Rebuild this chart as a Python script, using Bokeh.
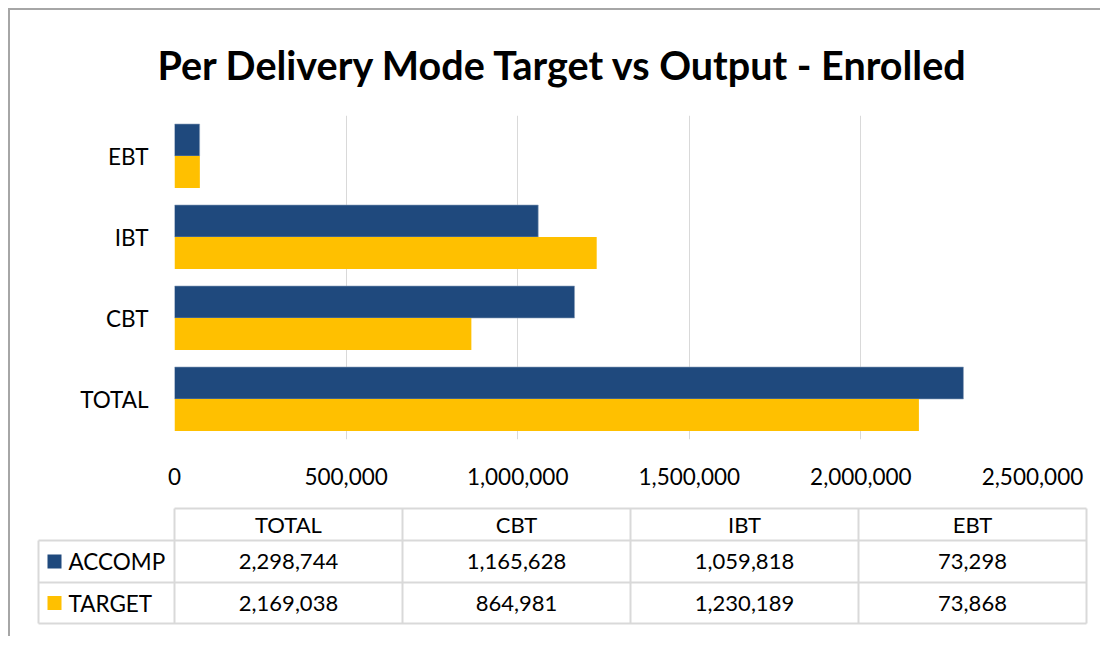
from bokeh.plotting import figure
from bokeh.models import FactorRange, Range1d, NumeralTickFormatter, FixedTicker, ColumnDataSource
from bokeh.transform import dodge
from bokeh.layouts import column, row
from bokeh.core.properties import value
from bokeh.embed import file_html
from bokeh.resources import INLINE

# ---- data ----
categories = ["TOTAL", "CBT", "IBT", "EBT"]
accomp = [2298744, 1165628, 1059818, 73298]
target = [2169038, 864981, 1230189, 73868]
series_names = ["ACCOMP", "TARGET"]
x_ticks = [0, 500000, 1000000, 1500000, 2000000, 2500000]
title_text = "Per Delivery Mode Target vs Output - Enrolled"

BLUE = "#1F497D"
YELLOW = "#FFC000"
GRID = "#D9D9D9"
FONT = "Lato"

W = 1090
H_CHART = 485
H_TABLE = 141

src = ColumnDataSource(dict(cat=categories, accomp=accomp, target=target))

p = figure(y_range=FactorRange(*categories), x_range=Range1d(0, x_ticks[-1]),
           width=W, height=H_CHART, output_backend="svg", toolbar_location=None,
           min_border_left=164, min_border_right=68, min_border_top=105, min_border_bottom=56)

bh = 0.395
p.hbar(y=dodge("cat", bh / 2, range=p.y_range), left=0, right="accomp", height=bh,
       source=src, fill_color=BLUE, line_color="#8EA2BC", line_width=0.6)
p.hbar(y=dodge("cat", -bh / 2, range=p.y_range), left=0, right="target", height=bh,
       source=src, fill_color=YELLOW, line_color=None)

p.title.text = title_text
p.title.align = "left"
p.title.vertical_align = "middle"
p.title.text_font = FONT
p.title.text_font_style = "bold"
p.title.text_font_size = "39.5px"
p.title.text_color = "#000000"
p.title.offset = -17
p.title.standoff = 54

p.xaxis.ticker = FixedTicker(ticks=x_ticks)
p.xaxis.formatter = NumeralTickFormatter(format="0,0")
for ax in (p.xaxis, p.yaxis):
    ax.axis_line_color = None
    ax.major_tick_line_color = None
    ax.minor_tick_line_color = None
    ax.major_label_text_font = FONT
    ax.major_label_text_font_size = "22.5px"
    ax.major_label_text_color = "#000000"
p.xaxis.major_label_standoff = 22
p.yaxis.major_label_standoff = 20

p.xgrid.grid_line_color = GRID
p.xgrid.grid_line_width = 1
p.ygrid.grid_line_color = None
p.outline_line_color = None

# ---- data table ----
t = figure(width=W, height=H_TABLE, x_range=Range1d(0, W), y_range=Range1d(H_TABLE, 0),
           output_backend="svg", toolbar_location=None, min_border=0)
t.axis.visible = False
t.grid.visible = False
t.outline_line_color = None

label_left = 28
col_left = 164
col_w = 228
row_y = [13, 45, 87, 128]
ncol = len(categories)
right = col_left + ncol * col_w
edges = [col_left + i * col_w for i in range(ncol + 1)]

hx0 = [col_left] + [label_left] * 3
hx1 = [right] * 4
t.segment(x0=hx0, y0=row_y, x1=hx1, y1=row_y, line_color=GRID, line_width=2)
vx = [label_left] + edges
vy0 = [row_y[1]] + [row_y[0]] * len(edges)
vy1 = [row_y[3]] * len(vx)
t.segment(x0=vx, y0=vy0, x1=vx, y1=vy1, line_color=GRID, line_width=2)

centers = [col_left + (i + 0.5) * col_w for i in range(ncol)]
text_kw = dict(text_font=value(FONT), text_font_size="22px", text_color="#000000",
               text_baseline="middle")
t.text(x=centers, y=[(row_y[0] + row_y[1]) / 2] * ncol, text=categories, text_align="center", **text_kw)
rows_mid = [(row_y[1] + row_y[2]) / 2, (row_y[2] + row_y[3]) / 2]
for vals, ym in zip((accomp, target), rows_mid):
    t.text(x=centers, y=[ym] * ncol, text=[f"{v:,}" for v in vals], text_align="center", **text_kw)

t.rect(x=[label_left + 16] * 2, y=rows_mid, width=14, height=14,
       fill_color=[BLUE, YELLOW], line_color=None)
t.text(x=[label_left + 30] * 2, y=rows_mid, text=series_names, text_align="left",
       **{**text_kw, "text_font_size": "22.5px"})

layout = column(p, row(t), spacing=0, margin=(8, 0, 0, 8),
                styles={"border-top": "2px solid #A6A6A6", "border-left": "2px solid #A6A6A6"})

open("out.html", "w").write(file_html(layout, INLINE))
